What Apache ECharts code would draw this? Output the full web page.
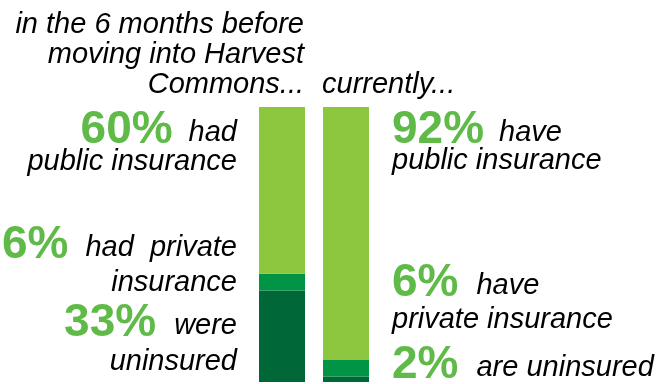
<!DOCTYPE html>
<html>
<head>
<meta charset="utf-8">
<script src="https://cdn.jsdelivr.net/npm/echarts@6/dist/echarts.min.js"></script>
<style>
html,body{margin:0;padding:0;background:#fff;}
#chart{width:666px;height:384px;}
</style>
</head>
<body>
<div id="chart"></div>
<script>
// ---- data ----
const categories = ['before', 'currently'];
const headerLines = ['in the 6 months before', 'moving into Harvest', 'Commons...'];
const currentHeader = 'currently...';
// bar segment values (share of residents, %), as measured from the bars
const publicIns = [60.6, 92];
const privateIns = [6.1, 6];
const uninsured = [33.3, 2];
// printed percentage labels
const beforeLabels = ['60%', '6%', '33%'];
const currentLabels = ['92%', '6%', '2%'];
const beforeWords = [['had', 'public insurance'], ['had  private', 'insurance'], ['were', 'uninsured']];
const currentWords = [['have', 'public insurance'], ['have', 'private insurance'], ['are uninsured', '']];

// ---- styles ----
const FONT = '"Liberation Sans", Arial, sans-serif';
const SMALL = 29, BIG = 46;
const GREEN_TXT = '#5fba47';
const C_PUBLIC = '#8dc63f', C_PRIVATE = '#009444', C_UNINS = '#006838';
const MID_SMALL = 0.35, MID_BIG = 0.28; // baseline offset factors for 'middle' alignment

const cv = document.createElement('canvas').getContext('2d');
function tw(text, italic, bold, size) {
  cv.font = (italic ? 'italic ' : '') + (bold ? 'bold ' : '') + size + 'px ' + FONT;
  return cv.measureText(text).width;
}
function txt(text, x, baseline, opts) {
  const size = opts.big ? BIG : SMALL;
  return {
    type: 'text', x: x, y: baseline - (opts.big ? MID_BIG : MID_SMALL) * size, silent: true,
    style: {
      text: text, fill: opts.big ? GREEN_TXT : '#000',
      font: (opts.big ? 'bold ' : 'italic ') + size + 'px ' + FONT,
      align: opts.align || 'left', verticalAlign: 'middle'
    }
  };
}

const graphics = [];
// header
const hdrBase = [35, 65, 95];
headerLines.forEach((l, i) => graphics.push(txt(l, 304, hdrBase[i], {align: 'right'})));
graphics.push(txt(currentHeader, 322, 95, {}));

// left labels (right aligned)
const L_RIGHT = 237;
const leftBase = [[143, 172], [258, 293], [336, 372]];
const leftGap = [16, 17, 18];
beforeLabels.forEach((s, i) => {
  const w = tw(beforeWords[i][0], true, false, SMALL);
  graphics.push(txt(beforeWords[i][0], L_RIGHT, leftBase[i][0], {align: 'right'}));
  graphics.push(txt(s, L_RIGHT - w - leftGap[i], leftBase[i][0], {align: 'right', big: true}));
  graphics.push(txt(beforeWords[i][1], L_RIGHT, leftBase[i][1], {align: 'right'}));
});

// right labels (left aligned)
const R_LEFT = 392;
const rightBase = [[143, 171], [296, 330], [378, 0]];
const rightGap = [15, 18, 18];
currentLabels.forEach((s, i) => {
  const w = tw(s, false, true, BIG);
  graphics.push(txt(s, R_LEFT, rightBase[i][0], {big: true}));
  graphics.push(txt(currentWords[i][0], R_LEFT + w + rightGap[i], rightBase[i][0], {}));
  if (currentWords[i][1]) graphics.push(txt(currentWords[i][1], R_LEFT, rightBase[i][1], {}));
});

const chart = echarts.init(document.getElementById('chart'), null, {renderer: 'canvas'});
const barCommon = {type: 'bar', stack: 'total', barWidth: 46, silent: true, animation: false};
chart.setOption({
  animation: false,
  grid: {left: 250, right: 288, top: 107, bottom: 2},
  xAxis: {type: 'category', data: categories, show: false},
  yAxis: {type: 'value', min: 0, max: 100, show: false},
  series: [
    Object.assign({name: 'uninsured', data: uninsured, itemStyle: {color: C_UNINS}}, barCommon),
    Object.assign({name: 'private', data: privateIns, itemStyle: {color: C_PRIVATE}}, barCommon),
    Object.assign({name: 'public', data: publicIns, itemStyle: {color: C_PUBLIC}}, barCommon)
  ],
  graphic: graphics
});
</script>
</body>
</html>
